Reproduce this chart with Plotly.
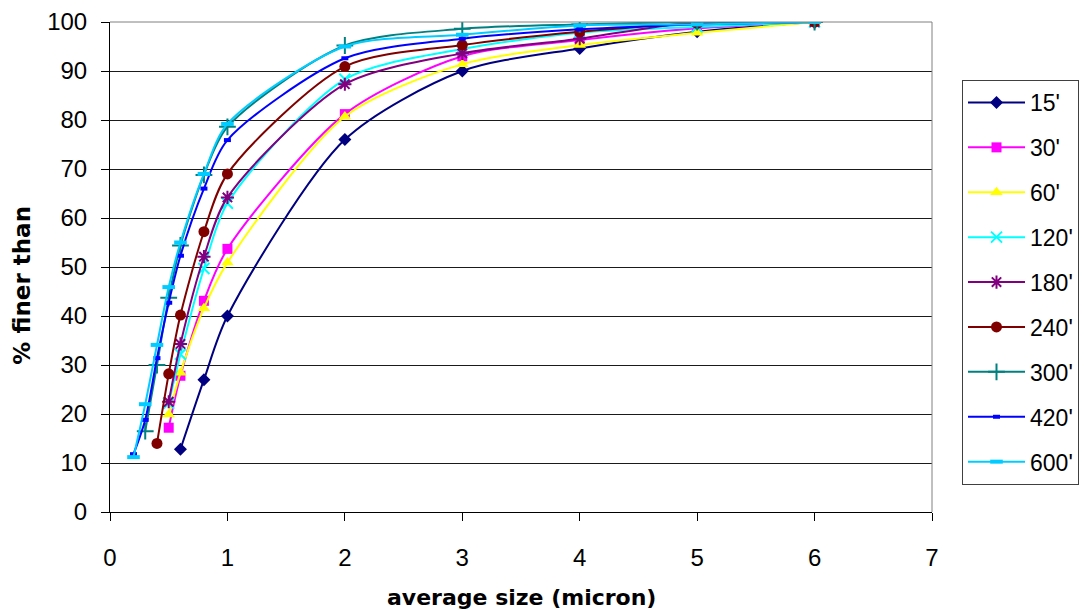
import plotly.graph_objects as go

# Cumulative particle size distribution at different milling times
labels = ["15'", "30'", "60'", "120'", "180'", "240'", "300'", "420'", "600'"]

x_15 = [0.6, 0.8, 1, 2, 3, 4, 5, 6]
y_15 = [12.8, 27, 40, 76, 90, 94.6, 98, 100]

x_30 = [0.5, 0.6, 0.8, 1, 2, 3, 4, 5, 6]
y_30 = [17.2, 27.8, 43.1, 53.7, 81.2, 93, 96.3, 98.7, 100]

x_60 = [0.5, 0.6, 0.8, 1, 2, 3, 4, 5, 6]
y_60 = [19.9, 28.4, 41.6, 50.9, 80.7, 91.4, 95.3, 97.8, 100]

x_120 = [0.5, 0.6, 0.8, 1, 2, 3, 4, 5, 6]
y_120 = [22.2, 32.2, 49.7, 63, 88.3, 94.5, 97.8, 99, 100]

x_180 = [0.5, 0.6, 0.8, 1, 2, 3, 4, 5, 6]
y_180 = [22.5, 34.3, 52.1, 64.2, 87.3, 93.6, 96.6, 100, 100]

x_240 = [0.4, 0.5, 0.6, 0.8, 1, 2, 3, 4, 5, 6]
y_240 = [14, 28.2, 40.2, 57.2, 69, 90.9, 95.3, 98, 99.7, 100]

x_300 = [0.3, 0.4, 0.5, 0.6, 0.8, 1, 2, 3, 4, 5, 6]
y_300 = [16.5, 30, 43.7, 54.4, 68.8, 78.6, 95.2, 98.6, 99.5, 100, 100]

x_420 = [0.2, 0.3, 0.4, 0.5, 0.6, 0.8, 1, 2, 3, 4, 5, 6]
y_420 = [11.8, 18.8, 31.4, 42.7, 52.3, 66, 75.9, 92.6, 96.6, 98.5, 99.5, 100]

x_600 = [0.2, 0.3, 0.4, 0.5, 0.6, 0.8, 1, 2, 3, 4, 5, 6]
y_600 = [11.2, 22, 34.1, 45.9, 55, 69, 79.2, 95, 97.4, 99.3, 99.5, 100]

xs = [x_15, x_30, x_60, x_120, x_180, x_240, x_300, x_420, x_600]
ys = [y_15, y_30, y_60, y_120, y_180, y_240, y_300, y_420, y_600]

colors = ["#000080", "#FF00FF", "#FFFF00", "#00FFFF", "#800080",
          "#800000", "#008080", "#0000FF", "#00CCFF"]

# marker style per series
markers = [
    dict(symbol="diamond", size=10),
    dict(symbol="square", size=10),
    dict(symbol="triangle-up", size=11),
    dict(symbol="x-thin", size=11, line_width=2),
    dict(symbol="asterisk", size=11, line_width=2),
    dict(symbol="circle", size=11),
    dict(symbol="cross-thin", size=12, line_width=2),
    dict(symbol="line-ew", size=5, line_width=4),
    dict(symbol="line-ew", size=9, line_width=4),
]

fig = go.Figure()
for name, x, y, c, m in zip(labels, xs, ys, colors, markers):
    mk = dict(color=c, symbol=m["symbol"], size=m["size"])
    if "line_width" in m:
        mk["line"] = dict(color=c, width=m["line_width"])
    else:
        mk["line"] = dict(width=0)
    fig.add_trace(go.Scatter(
        x=x, y=y, name=name, mode="lines+markers",
        line=dict(color=c, width=2, shape="spline", smoothing=0.8),
        marker=mk, legendgroup=name,
    ))

font_family = "Liberation Sans, Arial, sans-serif"
title_family = "DejaVu Sans, sans-serif"

fig.update_layout(
    width=1084, height=610,
    margin=dict(l=110, r=152, t=22, b=98, autoexpand=False),
    paper_bgcolor="white", plot_bgcolor="white",
    font=dict(family=font_family, color="black", size=24),
    showlegend=True,
    legend=dict(
        x=1.0365, y=0.8816, xanchor="left", yanchor="top",
        bordercolor="#404040", borderwidth=1, bgcolor="white",
        font=dict(size=23, family=font_family),
        tracegroupgap=12, itemwidth=57, entrywidth=50,
    ),
    xaxis=dict(
        range=[0, 7], dtick=1, tick0=0,
        showline=True, linecolor="black", linewidth=1,
        ticks="outside", ticklen=8, tickcolor="black",
        ticklabelstandoff=16,
        showgrid=False, zeroline=False,
        tickfont=dict(size=24),
    ),
    yaxis=dict(
        range=[0, 100], dtick=10, tick0=0,
        showline=True, linecolor="black", linewidth=1,
        ticks="outside", ticklen=8, tickcolor="black",
        ticklabelstandoff=9,
        showgrid=True, gridcolor="#1a1a1a", gridwidth=1,
        zeroline=False,
        tickfont=dict(size=24),
    ),
    annotations=[
        dict(text="<b>average size (micron)</b>", xref="paper", yref="paper",
             x=0.501, y=-0.1755, xanchor="center", yanchor="middle",
             showarrow=False, font=dict(family=title_family, size=22)),
        dict(text="<b>% finer than</b>", xref="paper", yref="paper",
             x=-0.1064, y=0.463, xanchor="center", yanchor="middle",
             textangle=-90, showarrow=False,
             font=dict(family=title_family, size=23)),
    ],
    shapes=[
        dict(type="line", xref="paper", yref="paper", x0=0, x1=1, y0=1, y1=1,
             line=dict(color="#808080", width=1)),
        dict(type="line", xref="paper", yref="paper", x0=1, x1=1, y0=0, y1=1,
             line=dict(color="#808080", width=1)),
    ],
)

fig.write_html("out.html")
